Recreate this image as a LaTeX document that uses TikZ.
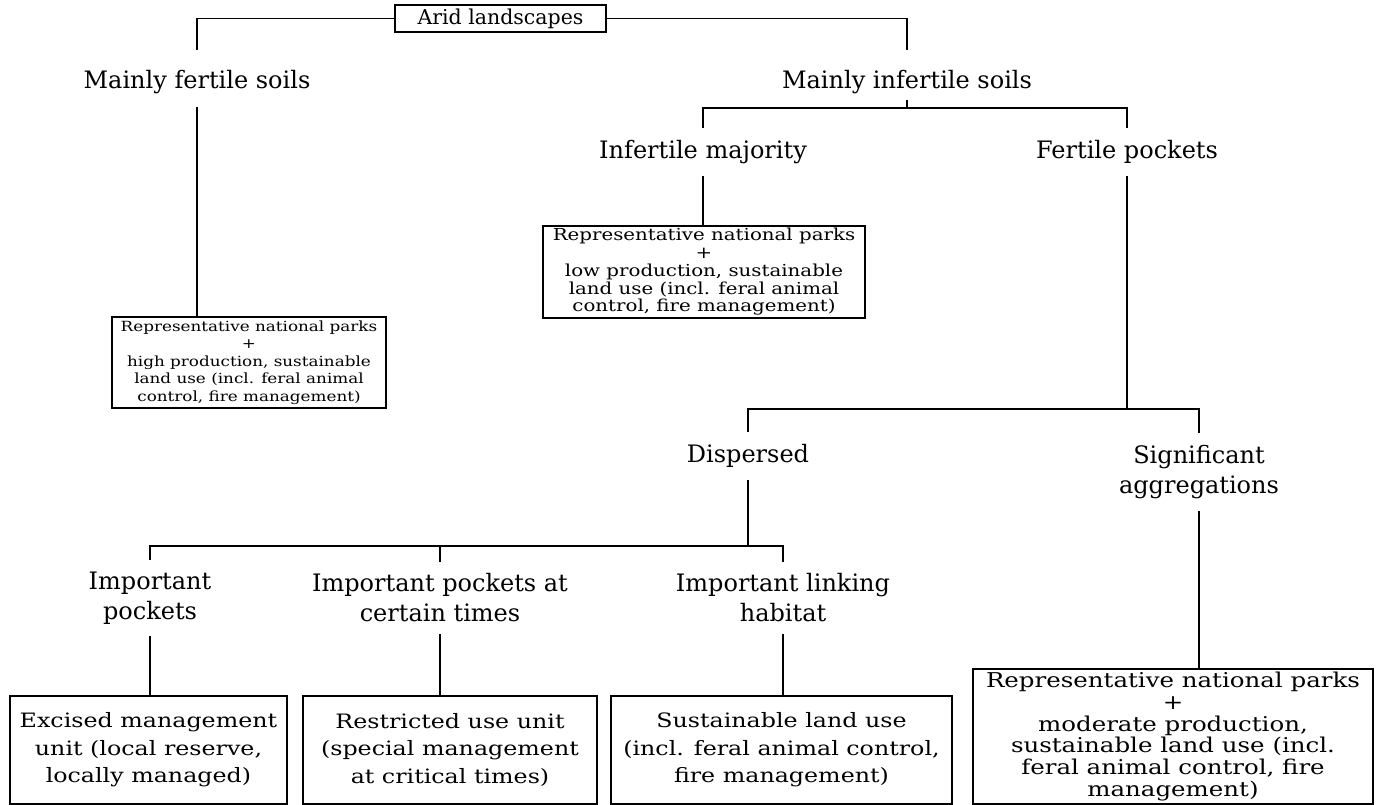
\documentclass[tikz,border=0pt]{standalone}
\usepackage{fontspec}
\setmainfont{DejaVu Serif}
\newfontfamily\widefam{DejaVu Serif}[FakeStretch=1.2]
\usetikzlibrary{calc}
\begin{document}
\begin{tikzpicture}[x=1pt,y=-1pt,
  lab/.style={inner sep=0pt, align=center, font=\fontsize{24}{30}\selectfont},
  box/.style={draw, line width=1.9pt, inner sep=0pt, align=center},
  fA/.style={font=\widefam\fontsize{14}{17.5}\selectfont},
  fB/.style={font=\widefam\fontsize{16.5}{17.8}\selectfont},
  fC/.style={font=\widefam\fontsize{19.8}{27.5}\selectfont},
  fD/.style={font=\widefam\fontsize{20.4}{21.8}\selectfont},
  conn/.style={line width=1.8pt}]
\useasboundingbox (0,0) rectangle (1377,804);
% top
\node[box, minimum width=211pt, minimum height=27pt, font=\fontsize{20.5}{22}\selectfont] (arid) at (500.5,18.5) {Arid landscapes};
\node[lab] (mfs) at (197,82) {Mainly fertile soils};
\node[lab] (mis) at (907,82) {Mainly infertile soils};
\node[box, fA, anchor=north, minimum width=274pt, minimum height=91pt] (b1) at (249,316)
  {Representative national parks\\+\\high production, sustainable\\land use (incl. feral animal\\control, fire management)};
\node[lab] (im) at (703,152) {Infertile majority};
\node[lab] (fp) at (1127,152) {Fertile pockets};
\node[box, fB, anchor=north, minimum width=322pt, minimum height=92pt] (b2) at (704,225)
  {Representative national parks\\+\\low production, sustainable\\land use (incl. feral animal\\control, fire management)};
\node[lab] (disp) at (748,456) {Dispersed};
\node[lab] (sig) at (1199,472) {Significant\\aggregations};
\node[lab] (ip) at (150,598) {Important\\pockets};
\node[lab] (ipt) at (440,598) {Important pockets at\\certain times};
\node[lab] (ilh) at (783,598) {Important linking\\habitat};
\node[box, fC, anchor=north, minimum width=277pt, minimum height=108pt] (ba) at (148.5,695)
  {Excised management\\unit (local reserve,\\locally managed)};
\node[box, fC, anchor=north, minimum width=294pt, minimum height=108pt] (bb) at (450,695)
  {Restricted use unit\\(special management\\at critical times)};
\node[box, fC, anchor=north, minimum width=341pt, minimum height=108pt] (bc) at (781.5,695)
  {Sustainable land use\\(incl. feral animal control,\\fire management)};
\node[box, fD, anchor=north, minimum width=400pt, minimum height=135pt] (bd) at (1173,668)
  {Representative national parks\\+\\moderate production,\\sustainable land use (incl.\\feral animal control, fire\\management)};
% junctions
\coordinate (j1) at (907,108);
\coordinate (j2) at (1127,409);
\coordinate (j3) at (748,546);
% connectors
\draw[conn, shorten >=20pt] (arid.west) -| (mfs.north);
\draw[conn, shorten >=20pt] (arid.east) -| (mis.north);
\draw[conn, shorten <=13pt] (mfs.south) -- (b1.north -| mfs);
\draw[conn, shorten <=6pt] (mis.south) -- (j1);
\draw[conn, shorten >=12pt] (j1) -| (im.north);
\draw[conn, shorten >=12pt] (j1) -| (fp.north);
\draw[conn, shorten <=12pt] (im.south) -- (b2.north -| im);
\draw[conn, shorten <=12pt] (fp.south) -- (j2);
\draw[conn, shorten >=12pt] (j2) -| (disp.north);
\draw[conn, shorten >=12pt] (j2) -| (sig.north);
\draw[conn, shorten <=12pt] (disp.south) -- (j3);
\draw[conn, shorten >=12pt] (j3) -| (ip.north);
\draw[conn, shorten >=12pt] (j3) -| (ipt.north);
\draw[conn, shorten >=12pt] (j3) -| (ilh.north);
\draw[conn, shorten <=12pt] (ip.south) -- (ba.north -| ip);
\draw[conn, shorten <=12pt] (ipt.south) -- (bb.north -| ipt);
\draw[conn, shorten <=12pt] (ilh.south) -- (bc.north -| ilh);
\draw[conn, shorten <=12pt] (sig.south) -- (bd.north -| sig);
\end{tikzpicture}
\end{document}
